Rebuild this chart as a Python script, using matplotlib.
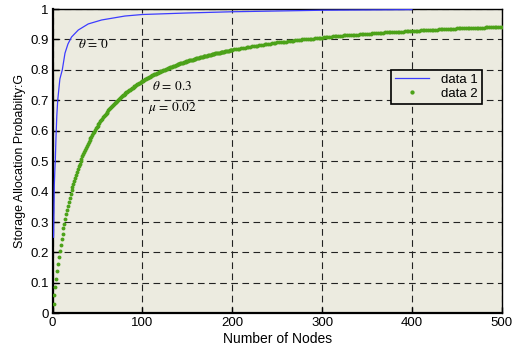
import matplotlib
matplotlib.use("Agg")
import matplotlib.pyplot as plt

plt.rcParams['font.family'] = ['Liberation Sans', 'DejaVu Sans']
plt.rcParams['mathtext.fontset'] = 'stix'

# data 1 (theta = 0)
x1 = [1, 1.4, 1.8, 2.4, 2.9, 3.7, 4.6, 5.6, 8, 10.7, 13.7, 17, 21, 28.5,
      39.6, 54.5, 80.5, 100, 150, 200, 260, 300, 350, 400]
y1 = [0.25, 0.33, 0.42, 0.47, 0.50, 0.58, 0.65, 0.70, 0.77, 0.80, 0.855,
      0.885, 0.908, 0.931, 0.951, 0.964, 0.977, 0.982, 0.987, 0.991, 0.994,
      0.996, 0.997, 0.998]

# data 2 (theta = 0.3, mu = 0.02), every node up to 200, then every 2nd
x2 = list(range(1, 201)) + list(range(202, 501, 2))
y2 = [0.031, 0.061, 0.088, 0.114, 0.139, 0.162, 0.184, 0.205, 0.225, 0.244,
      0.262, 0.279, 0.295, 0.311, 0.326, 0.340, 0.354, 0.367, 0.380, 0.392,
      0.404, 0.415, 0.426, 0.436, 0.446, 0.456, 0.466, 0.475, 0.483, 0.492,
      0.500, 0.508, 0.516, 0.523, 0.530, 0.537, 0.544, 0.551, 0.557, 0.563,
      0.569, 0.575, 0.581, 0.587, 0.592, 0.597, 0.603, 0.608, 0.613, 0.617,
      0.622, 0.627, 0.631, 0.635, 0.640, 0.644, 0.648, 0.652, 0.656, 0.659,
      # 61 .. 100
      0.663, 0.667, 0.670, 0.674, 0.677, 0.680, 0.684, 0.687, 0.690, 0.693,
      0.696, 0.699, 0.702, 0.705, 0.708, 0.710, 0.713, 0.716, 0.718, 0.721,
      0.723, 0.726, 0.728, 0.730, 0.733, 0.735, 0.737, 0.739, 0.742, 0.744,
      0.746, 0.748, 0.750, 0.752, 0.754, 0.756, 0.758, 0.760, 0.762, 0.763,
      # 101 .. 140
      0.765, 0.767, 0.769, 0.770, 0.772, 0.774, 0.775, 0.777, 0.779, 0.780,
      0.782, 0.783, 0.785, 0.786, 0.788, 0.789, 0.791, 0.792, 0.793, 0.795,
      0.796, 0.797, 0.799, 0.800, 0.801, 0.803, 0.804, 0.805, 0.806, 0.807,
      0.809, 0.810, 0.811, 0.812, 0.813, 0.814, 0.815, 0.817, 0.818, 0.819,
      # 141 .. 200
      0.820, 0.821, 0.822, 0.823, 0.824, 0.825, 0.826, 0.827, 0.828, 0.829,
      0.830, 0.831, 0.832, 0.832, 0.833, 0.834, 0.835, 0.836, 0.837, 0.838,
      0.839, 0.839, 0.840, 0.841, 0.842, 0.843, 0.843, 0.844, 0.845, 0.846,
      0.847, 0.847, 0.848, 0.849, 0.849, 0.850, 0.851, 0.852, 0.852, 0.853,
      0.854, 0.854, 0.855, 0.856, 0.856, 0.857, 0.858, 0.858, 0.859, 0.860,
      0.860, 0.861, 0.862, 0.862, 0.863, 0.863, 0.864, 0.865, 0.865, 0.866,
      # 202 .. 300
      0.867, 0.868, 0.869, 0.870, 0.871, 0.872, 0.873, 0.874, 0.876, 0.876,
      0.877, 0.878, 0.879, 0.880, 0.881, 0.882, 0.883, 0.884, 0.885, 0.886,
      0.886, 0.887, 0.888, 0.889, 0.890, 0.890, 0.891, 0.892, 0.893, 0.893,
      0.894, 0.895, 0.896, 0.896, 0.897, 0.898, 0.898, 0.899, 0.900, 0.900,
      0.901, 0.902, 0.902, 0.903, 0.903, 0.904, 0.905, 0.905, 0.906, 0.906,
      # 302 .. 400
      0.907, 0.907, 0.908, 0.909, 0.909, 0.910, 0.910, 0.911, 0.911, 0.912,
      0.912, 0.913, 0.913, 0.914, 0.914, 0.915, 0.915, 0.916, 0.916, 0.916,
      0.917, 0.917, 0.918, 0.918, 0.919, 0.919, 0.919, 0.920, 0.920, 0.921,
      0.921, 0.922, 0.922, 0.922, 0.923, 0.923, 0.923, 0.924, 0.924, 0.925,
      0.925, 0.925, 0.926, 0.926, 0.926, 0.927, 0.927, 0.927, 0.928, 0.928,
      # 402 .. 500
      0.928, 0.929, 0.929, 0.929, 0.930, 0.930, 0.930, 0.931, 0.931, 0.931,
      0.932, 0.932, 0.932, 0.932, 0.933, 0.933, 0.933, 0.934, 0.934, 0.934,
      0.934, 0.935, 0.935, 0.935, 0.936, 0.936, 0.936, 0.936, 0.937, 0.937,
      0.937, 0.937, 0.938, 0.938, 0.938, 0.938, 0.939, 0.939, 0.939, 0.939,
      0.940, 0.940, 0.940, 0.940, 0.941, 0.941, 0.941, 0.941, 0.941, 0.942]

x_ticks = [0, 100, 200, 300, 400, 500]
y_ticks = [0, 0.1, 0.2, 0.3, 0.4, 0.5, 0.6, 0.7, 0.8, 0.9, 1]
y_tick_labels = ['0', '0.1', '0.2', '0.3', '0.4', '0.5', '0.6', '0.7', '0.8', '0.9', '1']

fig = plt.figure(figsize=(5.13, 3.51), dpi=100)
ax = fig.add_axes([0.1027, 0.1074, 0.8753, 0.8669])
ax.set_facecolor('#ecebe0')

ax.plot(x1, y1, color='#3c3cff', lw=0.9, label='data 1', zorder=3)
ax.plot(x2, y2, ls='none', marker='o', ms=2.8, mec='none', color='#4ca219',
        label='data 2', zorder=3)

ax.set_xlim(0, 500)
ax.set_ylim(0, 1)
ax.set_xticks(x_ticks)
ax.set_yticks(y_ticks)
ax.set_yticklabels(y_tick_labels)
ax.tick_params(direction='in', length=4, width=1, labelsize=9.5, pad=3)
ax.grid(True, color='#222222', ls=(0, (6, 4)), lw=0.8)

for side in ['left', 'bottom']:
    ax.spines[side].set_linewidth(1.6)
for side in ['top', 'right']:
    ax.spines[side].set_linewidth(1.0)

ax.set_xlabel('Number of Nodes', fontsize=10, labelpad=2)
ax.set_ylabel('Storage Allocation Probabilty:G', fontsize=9, labelpad=3)

ax.text(28, 0.885, r'$\theta\,=\,0$', fontsize=9.5, va='center')
ax.text(111, 0.744, r'$\theta\,=\,0.3$', fontsize=9.5, va='center')
ax.text(106, 0.675, r'$\mu\,=\,0.02$', fontsize=9.5, va='center')

leg = ax.legend(loc='upper left', bbox_to_anchor=(0.753, 0.80), fontsize=9.5,
                frameon=True, fancybox=False, framealpha=1, handlelength=2.6,
                borderpad=0.3, labelspacing=0.1, handletextpad=0.9,
                borderaxespad=0, markerscale=1.1)
leg.get_frame().set_edgecolor('black')
leg.get_frame().set_facecolor('#ecebe0')
leg.get_frame().set_linewidth(1.2)

fig.savefig('out.png', dpi=100)
